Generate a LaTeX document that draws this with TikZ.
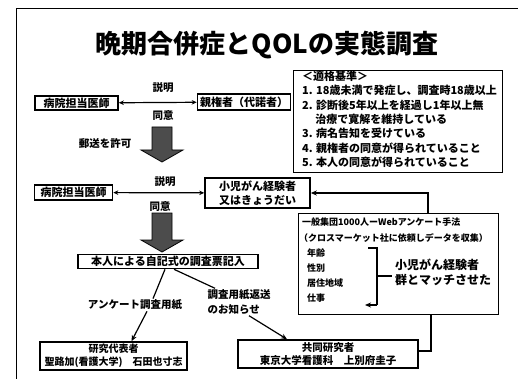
\documentclass[tikz,border=0pt]{standalone}
\usepackage{fontspec}
\setmainfont{Noto Sans CJK JP}
\usetikzlibrary{arrows.meta}
\tikzset{
  box/.style={draw, line width=1.6pt, inner sep=1pt, align=center, font=\bfseries\fontsize{11}{13.5}\selectfont},
  thinbox/.style={draw, line width=0.9pt, inner sep=0pt},
  lbl/.style={inner sep=1pt, align=left, font=\bfseries\fontsize{10.5}{15}\selectfont},
  small/.style={inner sep=0pt, align=left, font=\bfseries\fontsize{9}{11}\selectfont},
  dbl/.style={{Stealth[length=5pt,width=4.5pt]}-{Stealth[length=5pt,width=4.5pt]}, line width=1.2pt},
  arr/.style={-{Stealth[length=6pt,width=5pt]}, line width=1.2pt},
  plain/.style={line width=1.2pt},
  blk/.style={draw=black, line width=0.8pt, fill=black!70},
}
\begin{document}
\begin{tikzpicture}[x=1pt,y=-1pt]
\useasboundingbox (0,0) rectangle (518,379);
% slide frame
\draw[line width=1pt] (16,379) -- (16,9) -- (518,9);
% title
\node[font=\bfseries\fontsize{26}{30}\selectfont] (title) at (267,45) {晩期合併症とQOLの実態調査};
% row 1
\node[box, minimum width=83pt, minimum height=14pt] (doc1) at (76.5,103) {病院担当医師};
\node[box, minimum width=93pt, minimum height=16pt] (par) at (244,102) {親権者（代諾者）};
\draw[dbl] (doc1) -- (par);
\node[lbl] (l1a) at (163,88) {説明};
\node[lbl] (l1b) at (163,116) {同意};
% block arrow 1
\draw[blk] (152,127) -- (172,127) -- (172,150) -- (183,150) -- (162,162) -- (141,150) -- (152,150) -- cycle;
\node[lbl] (mail) at (105,143) {郵送を許可};
% row 2
\node[box, minimum width=78pt, minimum height=15pt] (doc2) at (73.5,192.5) {病院担当医師};
\node[box, minimum width=105pt, minimum height=30pt, align=left] (child) at (257.5,193) {小児がん経験者\\又はきょうだい};
\draw[dbl] (doc2) -- (child);
\node[lbl] (l2a) at (165,182) {説明};
\node[lbl] (l2b) at (160,207) {同意};
% block arrow 2
\draw[blk] (152,213) -- (172,213) -- (172,240) -- (183,240) -- (162,252) -- (141,240) -- (152,240) -- cycle;
\node[box, minimum width=180pt, minimum height=14pt] (honin) at (168,261.5) {本人による自記式の調査票記入};
% criteria box
\node[thinbox, minimum width=209pt, minimum height=102pt] (critbox) at (397.5,121) {};
\node[anchor=north west, inner sep=0pt, align=left, font=\bfseries\fontsize{11}{14.3}\selectfont] (crit) at (302,71) {＜適格基準＞\\
1. 18歳未満で発症し、調査時18歳以上\\
2. 診断後5年以上を経過し1年以上無\\
\hspace*{1.2em}治療で寛解を維持している\\
3. 病名告知を受けている\\
4. 親権者の同意が得られていること\\
5. 本人の同意が得られていること};
% web box
\node[thinbox, minimum width=200pt, minimum height=101pt] (web) at (398,263.5) {};
\node[small, anchor=west] (w1) at (302,222) {一般集団1000人ーWebアンケート手法};
\node[small, anchor=west] (w2) at (299,238) {（クロスマーケット社に依頼しデータを収集）};
\node[small, anchor=west] (age) at (307,253) {年齢};
\node[small, anchor=west] (sex) at (307,268) {性別};
\node[small, anchor=west] (area) at (307,283) {居住地域};
\node[small, anchor=west] (job) at (307,298) {仕事};
\draw[plain] (368,248) -- (377,248) -- (377,305);
\draw[arr] (377,305) -- (365,305);
\draw[plain] (377,276) -- (392,276);
\node[inner sep=0pt, align=left, font=\bfseries\fontsize{12}{15}\selectfont] (match) at (443,272) {小児がん経験者\\群とマッチさせた};
\draw[arr] ([xshift=30pt]web.north) |- (child.east);
% lower part
\node[box, minimum width=147pt, minimum height=28pt, font=\bfseries\fontsize{10}{13}\selectfont] (rep) at (113.5,356) {研究代表者\\聖路加(看護大学)　石田也寸志};
\node[box, minimum width=180pt, minimum height=28pt, font=\bfseries\fontsize{10.5}{13}\selectfont] (co) at (328,354) {共同研究者\\東京大学看護科　上別府圭子};
\draw[plain] ([xshift=33pt]web.south) |- ([yshift=3pt]co.east);
\node[lbl] (ank) at (135,305) {アンケート調査用紙};
\node[lbl] (notice) at (239,302) {調査用紙返送\\のお知らせ};
\draw[plain] ([xshift=-3pt]honin.south) -- ([xshift=18pt]ank.north);
\draw[arr] ([xshift=12pt]ank.south) -- ([xshift=18pt]rep.north);
\draw[plain] ([xshift=6pt]honin.south) -- ([xshift=-24pt]notice.north);
\draw[arr] ([xshift=10pt]notice.south) -- ([xshift=-41pt]co.north);
\end{tikzpicture}
\end{document}
